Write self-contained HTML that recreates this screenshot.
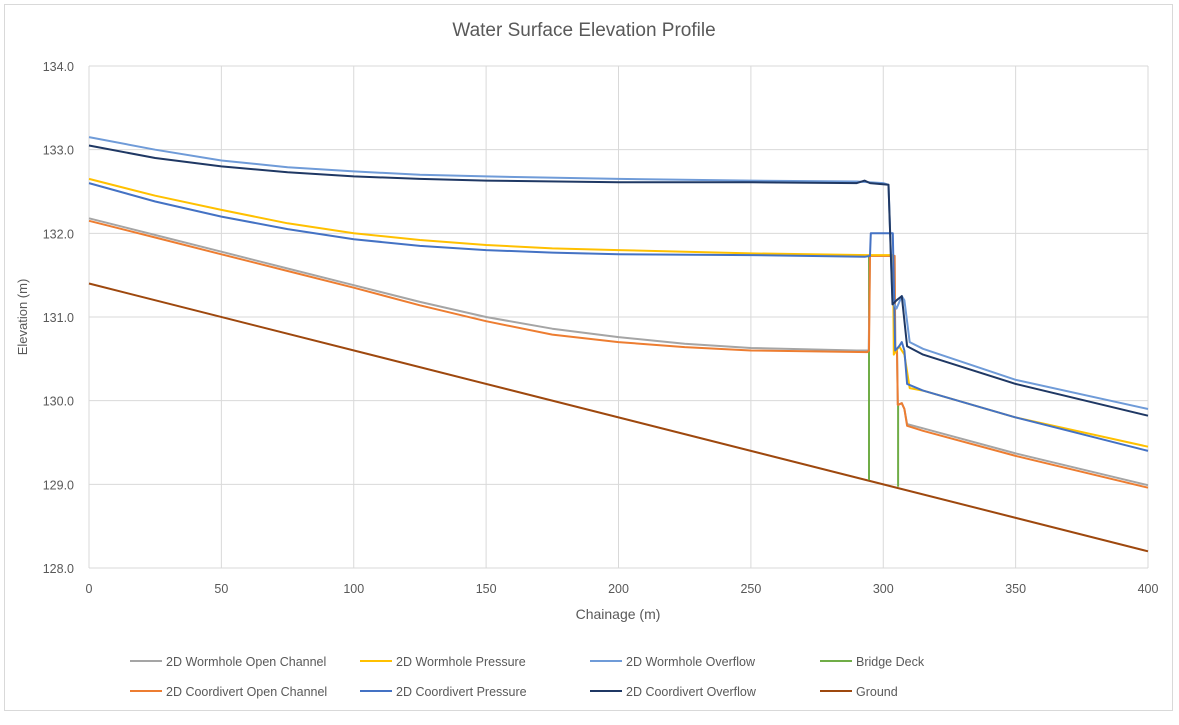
<!DOCTYPE html>
<html><head><meta charset="utf-8">
<style>
body{margin:0;background:#fff;}
svg text{font-family:"Liberation Sans",sans-serif;}
</style></head>
<body>
<svg id="chart" width="1179" height="720" xmlns="http://www.w3.org/2000/svg">
<rect x="4.5" y="4.5" width="1168" height="706" fill="#fff" stroke="#d9d9d9"/>
<text x="584" y="36" text-anchor="middle" font-size="19" fill="#595959">Water Surface Elevation Profile</text>
<g id="grid"></g>
<g id="series"></g>
<g id="axes"></g>
<text x="618" y="619" text-anchor="middle" font-size="14" fill="#595959">Chainage (m)</text>
<text x="27" y="317" text-anchor="middle" font-size="13" fill="#595959" transform="rotate(-90 27 317)">Elevation (m)</text>
<g id="legend"></g>
</svg>
<script>
const xTicks=[0,50,100,150,200,250,300,350,400];
const yTicks=[128,129,130,131,132,133,134];
const seriesNames=["2D Wormhole Open Channel","2D Wormhole Pressure","2D Wormhole Overflow","Bridge Deck","2D Coordivert Open Channel","2D Coordivert Pressure","2D Coordivert Overflow","Ground"];
const seriesColors=["#a5a5a5","#ffc000","#6f9bd8","#70ad47","#ed7d31","#4472c4","#1f3864","#9e480e"];
const whOpenX=[0,25,50,75,100,125,150,175,200,225,250,290,294.5,295,304.3,304.6,305.2,305.5,307,308,309,315,350,400];
const whOpenY=[132.18,131.98,131.78,131.58,131.38,131.18,131.0,130.86,130.76,130.68,130.63,130.6,130.6,131.73,131.73,130.6,130.6,129.95,129.97,129.9,129.72,129.67,129.37,128.99];
const whPresX=[0,25,50,75,100,125,150,175,200,250,294,303.7,304,306,308,310,315,350,400];
const whPresY=[132.65,132.45,132.28,132.12,132.0,131.92,131.86,131.82,131.8,131.76,131.74,131.74,130.55,130.65,130.55,130.15,130.12,129.8,129.45];
const whOverX=[0,25,50,75,100,125,150,200,250,290,300,302,303.5,305,307,308,310,315,350,400];
const whOverY=[133.15,133.0,132.87,132.79,132.74,132.7,132.68,132.65,132.63,132.62,132.6,132.58,131.2,131.1,131.25,131.2,130.7,130.62,130.25,129.9];
const deckX=[294.6,294.6,null,305.6,305.6];
const deckY=[129.05,131.73,null,129.95,128.97];
const cdOpenX=[0,25,50,75,100,125,150,175,200,225,250,294,294.6,295,304.3,304.5,305.2,305.5,307,308,309,315,350,400];
const cdOpenY=[132.15,131.95,131.75,131.55,131.35,131.14,130.95,130.79,130.7,130.64,130.6,130.58,130.6,131.73,131.73,130.6,130.6,129.95,129.97,129.9,129.7,129.64,129.34,128.96];
const cdPresX=[0,25,50,75,100,125,150,175,200,250,293,295,295.3,303.6,304.5,306,307,308,309,315,350,400];
const cdPresY=[132.6,132.38,132.2,132.05,131.93,131.85,131.8,131.77,131.75,131.74,131.72,131.73,132.0,132.0,130.6,130.65,130.7,130.6,130.2,130.12,129.8,129.4];
const cdOverX=[0,25,50,75,100,125,150,200,250,290,293,295,302,303.5,305,307,309,315,350,400];
const cdOverY=[133.05,132.9,132.8,132.73,132.68,132.65,132.63,132.61,132.61,132.6,132.63,132.6,132.58,131.15,131.2,131.25,130.65,130.55,130.2,129.82];
const groundX=[0,400];
const groundY=[131.4,128.2];

const X0=89,X1=1148,Y0=568,Y1=66;
const sx=v=>X0+(v-0)/(400-0)*(X1-X0);
const sy=v=>Y0-(v-128)/(134-128)*(Y0-Y1);
const NS="http://www.w3.org/2000/svg";
function mk(tag,attrs,parent){const e=document.createElementNS(NS,tag);for(const k in attrs)e.setAttribute(k,attrs[k]);parent.appendChild(e);return e;}
const grid=document.getElementById('grid'),axes=document.getElementById('axes');
xTicks.forEach(t=>{
  const l=mk('line',{x1:sx(t),x2:sx(t),y1:Y1,y2:Y0,stroke:'#d9d9d9'},grid);
  
  
  const tx=mk('text',{x:sx(t),y:Y0+25,'text-anchor':'middle','font-size':12.5,fill:'#595959'},axes);
  tx.textContent=t;
  
  
});
yTicks.forEach(t=>{
  const l=mk('line',{x1:X0,x2:X1,y1:sy(t),y2:sy(t),stroke:'#d9d9d9'},grid);
  
  
  const tx=mk('text',{x:X0-15,y:sy(t)+5,'text-anchor':'end','font-size':12.5,fill:'#595959'},axes);
  tx.textContent=t.toFixed(1);
  
  
});
const xs=[whOpenX,whPresX,whOverX,deckX,cdOpenX,cdPresX,cdOverX,groundX];
const ys=[whOpenY,whPresY,whOverY,deckY,cdOpenY,cdPresY,cdOverY,groundY];
const order=[7,3,0,4,1,5,2,6];
const sg=document.getElementById('series');
function smoothPath(px,py){
  let d='';
  for(let j=0;j<px.length;j++){
    const x=sx(px[j]),y=sy(py[j]);
    if(j===0){d+='M'+x.toFixed(1)+','+y.toFixed(1)+' ';continue;}
    d+='L'+x.toFixed(1)+','+y.toFixed(1)+' ';
  }
  return d;
}
order.forEach(i=>{
  let d='',segX=[],segY=[];
  const flush=()=>{if(segX.length)d+=smoothPath(segX,segY);segX=[];segY=[];};
  for(let j=0;j<xs[i].length;j++){
    if(xs[i][j]===null){flush();continue;}
    segX.push(xs[i][j]);segY.push(ys[i][j]);
  }
  flush();
  const p=mk('path',{d:d,fill:'none',stroke:seriesColors[i],'stroke-width':2,'stroke-linejoin':'round'},sg);
  
  
});
const lg=document.getElementById('legend');
const lx=[130,360,590,820],lyy=[661,691];
seriesNames.forEach((n,i)=>{
  const x=lx[i%4],y=lyy[Math.floor(i/4)];
  const g=mk('g',{},lg);
  
  
  mk('line',{x1:x,x2:x+32,y1:y,y2:y,stroke:seriesColors[i],'stroke-width':2},g);
  const t=mk('text',{x:x+36,y:y+5,'font-size':12.5,fill:'#595959'},g);
  t.textContent=n;
});
</script>
</body></html>
